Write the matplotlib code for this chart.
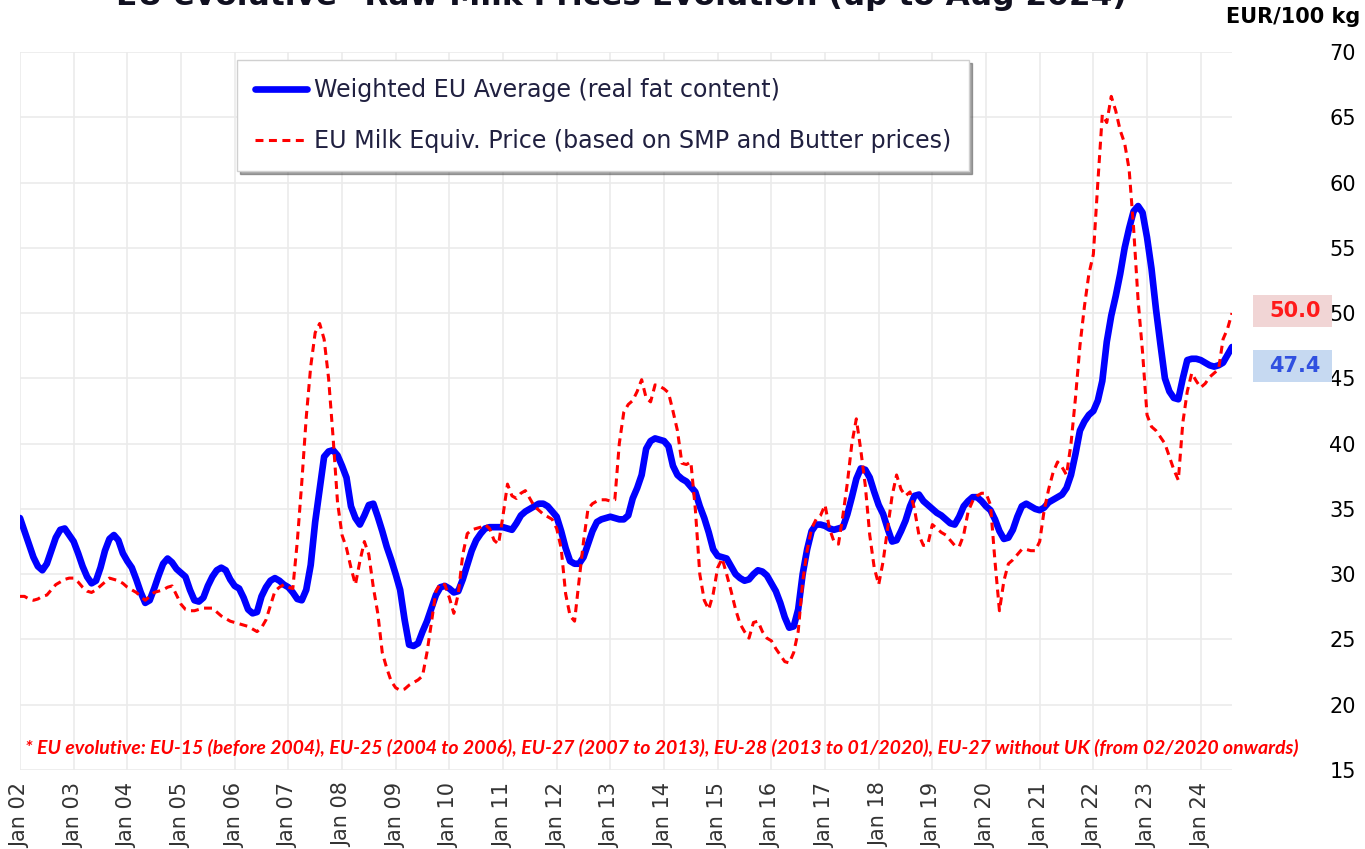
import numpy as np
import matplotlib.pyplot as plt
from matplotlib.patches import Rectangle

# monthly values, Jan 2002 .. Aug 2024, EUR/100 kg
years = list(range(2002, 2025))
tick_labels = ["Jan %02d" % (y % 100) for y in years]

eu_avg = [
    34.3, 33.3, 32.3, 31.3, 30.6, 30.3, 30.8, 31.8, 32.8, 33.4, 33.5, 33.0,  # 2002
    32.5, 31.6, 30.6, 29.8, 29.3, 29.5, 30.5, 31.8, 32.7, 33.0, 32.6, 31.6,  # 2003
    31.0, 30.5, 29.6, 28.6, 27.8, 28.0, 28.9, 29.9, 30.8, 31.2, 30.9, 30.4,  # 2004
    30.1, 29.8, 28.8, 28.0, 27.9, 28.2, 29.1, 29.8, 30.3, 30.5, 30.3, 29.6,  # 2005
    29.1, 28.9, 28.2, 27.3, 27.0, 27.1, 28.3, 29.0, 29.5, 29.7, 29.5, 29.2,  # 2006
    29.0, 28.6, 28.1, 28.0, 28.8, 30.7, 34.0, 36.5, 39.0, 39.4, 39.5, 39.1,  # 2007
    38.3, 37.4, 35.2, 34.3, 33.8, 34.5, 35.3, 35.4, 34.4, 33.3, 32.1, 31.1,  # 2008
    30.0, 28.8, 26.5, 24.6, 24.5, 24.7, 25.6, 26.4, 27.4, 28.4, 29.0, 29.1,  # 2009
    28.9, 28.6, 28.7, 29.6, 30.7, 31.8, 32.6, 33.1, 33.5, 33.6, 33.6, 33.6,  # 2010
    33.6, 33.5, 33.4, 33.9, 34.5, 34.8, 35.0, 35.2, 35.4, 35.4, 35.2, 34.8,  # 2011
    34.4, 33.3, 32.0, 31.0, 30.8, 30.8, 31.3, 32.3, 33.3, 34.0, 34.2, 34.3,  # 2012
    34.4, 34.3, 34.2, 34.2, 34.5, 35.8, 36.6, 37.6, 39.6, 40.2, 40.4, 40.3,  # 2013
    40.2, 39.8, 38.3, 37.6, 37.3, 37.1, 36.7, 36.3, 35.2, 34.3, 33.2, 31.9,  # 2014
    31.4, 31.3, 31.2, 30.6, 30.0, 29.7, 29.5, 29.6, 30.0, 30.3, 30.2, 29.9,  # 2015
    29.3, 28.7, 27.8, 26.7, 25.9, 26.0, 27.3, 30.0, 31.9, 33.3, 33.8, 33.8,  # 2016
    33.7, 33.5, 33.4, 33.5, 33.6, 34.6, 35.9, 37.3, 38.1, 38.0, 37.4, 36.3,  # 2017
    35.3, 34.6, 33.5, 32.5, 32.6, 33.3, 34.1, 35.2, 36.0, 36.1, 35.6, 35.3,  # 2018
    35.0, 34.7, 34.5, 34.2, 33.9, 33.8, 34.4, 35.2, 35.6, 35.9, 35.9, 35.6,  # 2019
    35.2, 34.9, 34.2, 33.3, 32.7, 32.8, 33.4, 34.4, 35.2, 35.4, 35.2, 35.0,  # 2020
    34.9, 35.1, 35.5, 35.7, 35.9, 36.1, 36.6, 37.6, 39.2, 41.0, 41.7, 42.2,  # 2021
    42.5, 43.3, 44.8, 47.8, 49.8, 51.3, 53.0, 55.0, 56.5, 57.8, 58.2, 57.7,  # 2022
    55.8, 53.4, 50.3, 47.6, 45.0, 44.0, 43.5, 43.4, 45.0, 46.4, 46.5, 46.5,  # 2023
    46.4, 46.2, 46.0, 45.9, 46.0, 46.2, 46.8, 47.4,                          # 2024
]

milk_equiv = [
    28.3, 28.3, 28.1, 28.0, 28.1, 28.3, 28.4, 28.8, 29.2, 29.4, 29.6, 29.7,  # 2002
    29.7, 29.4, 29.0, 28.7, 28.6, 28.8, 29.1, 29.4, 29.7, 29.6, 29.5, 29.3,  # 2003
    29.0, 28.8, 28.6, 28.3, 28.0, 28.3, 28.6, 28.7, 28.8, 29.0, 29.1, 28.4,  # 2004
    27.7, 27.3, 27.2, 27.2, 27.3, 27.4, 27.4, 27.4, 27.1, 26.8, 26.6, 26.4,  # 2005
    26.3, 26.2, 26.1, 26.0, 25.8, 25.6, 25.9, 26.5, 27.6, 28.7, 29.0, 29.2,  # 2006
    29.0, 28.9, 32.5, 37.0, 42.0, 45.9, 48.5, 49.2, 48.0, 45.0, 40.5, 35.5,  # 2007
    33.0, 32.0, 30.5, 29.2, 31.0, 32.5, 31.5, 29.0, 27.0, 24.0, 22.8, 21.8,  # 2008
    21.3, 21.1, 21.2, 21.5, 21.7, 21.9, 22.2, 24.0, 26.3, 28.7, 29.3, 29.2,  # 2009
    28.2, 27.0, 28.5, 31.5, 33.1, 33.4, 33.5, 33.6, 33.8, 33.5, 32.6, 32.3,  # 2010
    34.5, 36.9, 36.0, 35.8, 36.2, 36.4, 35.8, 35.2, 34.9, 34.6, 34.4, 34.2,  # 2011
    33.5, 32.0, 28.5, 26.8, 26.4, 29.5, 32.5, 35.0, 35.4, 35.6, 35.7, 35.7,  # 2012
    35.6, 35.7, 40.0, 42.4, 43.0, 43.3, 44.0, 44.9, 43.5, 43.2, 44.5, 44.4,  # 2013
    44.2, 43.9, 42.5, 41.0, 38.5, 38.4, 38.6, 35.0, 30.0, 28.0, 27.3, 28.5,  # 2014
    30.5, 31.2, 30.0, 28.7, 27.3, 26.2, 25.6, 25.1, 26.3, 26.4, 25.6, 25.1,  # 2015
    24.9, 24.3, 23.8, 23.3, 23.2, 24.0, 25.6, 29.4, 31.8, 33.5, 34.2, 34.5,  # 2016
    35.3, 33.5, 32.5, 32.3, 34.5, 37.0, 40.0, 41.9, 39.5, 36.8, 33.0, 30.5,  # 2017
    29.2, 31.0, 33.5, 36.0, 37.6, 36.5, 36.0, 36.3, 35.0, 33.0, 32.2, 32.3,  # 2018
    33.8, 33.5, 33.2, 33.0, 32.6, 32.2, 32.1, 33.0, 34.8, 35.6, 36.0, 36.2,  # 2019
    36.2, 35.3, 31.0, 27.2, 29.5, 30.8, 31.1, 31.5, 31.9, 31.9, 31.8, 31.8,  # 2020
    32.5, 34.9, 36.5, 37.8, 38.6, 38.2, 37.6, 40.0, 43.5, 47.5, 50.5, 53.0,  # 2021
    54.5, 60.0, 65.2, 64.6, 66.6, 65.5, 64.0, 63.0, 61.0, 56.5, 51.0, 47.0,  # 2022
    42.2, 41.3, 41.0, 40.5, 40.0, 39.0, 38.0, 37.2, 41.6, 44.0, 45.4, 44.8,  # 2023
    44.3, 44.6, 45.1, 45.4, 45.7, 48.0, 48.8, 50.0,                          # 2024
]

W, H = 1365, 849
fig = plt.figure(figsize=(W / 100, H / 100), dpi=100)
ax = fig.add_axes([20 / W, 1 - 770 / H, (1232 - 20) / W, (770 - 52) / H])

x = np.arange(len(eu_avg))
ax.plot(x, eu_avg, color='#0000ff', lw=4.8, solid_capstyle='round',
        label='Weighted EU Average (real fat content)', zorder=3)
ax.plot(x, milk_equiv, color='#ff0000', lw=2.2, dashes=(2.6, 1.8),
        label='EU Milk Equiv. Price (based on SMP and Butter prices)', zorder=4)

ax.set_xlim(0, len(eu_avg) - 1)
ax.set_ylim(15, 70)
ax.set_xticks(np.arange(0, len(eu_avg), 12))
ax.set_xticklabels(tick_labels, rotation=90, fontsize=15, color='#333333')
ax.set_yticks(range(15, 71, 5))
ax.yaxis.tick_right()
ax.tick_params(axis='y', length=0, pad=70, labelsize=15)
ax.tick_params(axis='x', length=0, pad=9)
ax.grid(color='#ebebeb', lw=1.2)
ax.set_axisbelow(True)
for s in ax.spines.values():
    s.set_visible(False)

leg = fig.legend(loc='upper left', bbox_to_anchor=(237 / W, 1 - 60 / H),
                 borderaxespad=0, fontsize=17.1, handlelength=2.2,
                 labelspacing=1.15, borderpad=0.75, handletextpad=0.3,
                 fancybox=False, shadow=True, framealpha=1)
leg.get_frame().set_edgecolor('#d0d0d0')
for t in leg.get_texts():
    t.set_color('#202040')

fig.text(0.455, 1 - 5 / H, 'EU evolutive* Raw Milk Prices Evolution (up to Aug 2024)',
         ha='center', va='baseline', fontsize=22.5, weight='bold', color='#101020')
fig.text(1360 / W, 1 - 17 / H, 'EUR/100 kg', ha='right', va='center',
         fontsize=15, weight='bold')

# last-value labels
for val, yc, fc, tc in [(milk_equiv[-1], 311, '#f1d5d5', '#ff1a1a'),
                        (eu_avg[-1], 366, '#c6d9f1', '#3050e0')]:
    fig.patches.append(Rectangle((1253 / W, 1 - (yc + 16) / H), 79 / W, 32 / H,
                                 transform=fig.transFigure, facecolor=fc,
                                 edgecolor='none', zorder=1))
    fig.text(1321 / W, 1 - yc / H, '%.1f' % val, ha='right', va='center',
             fontsize=15, weight='bold', color=tc, zorder=2)

fig.text(25 / W, 1 - 748 / H,
         '* EU evolutive: EU-15 (before 2004), EU-25 (2004 to 2006), EU-27 (2007 to 2013), '
         'EU-28 (2013 to 01/2020), EU-27 without UK (from 02/2020 onwards)',
         ha='left', va='center', fontsize=14, weight='bold', style='italic',
         color='#ff0000', family=['Lato', 'DejaVu Sans'])

fig.savefig('out.png', dpi=100)
